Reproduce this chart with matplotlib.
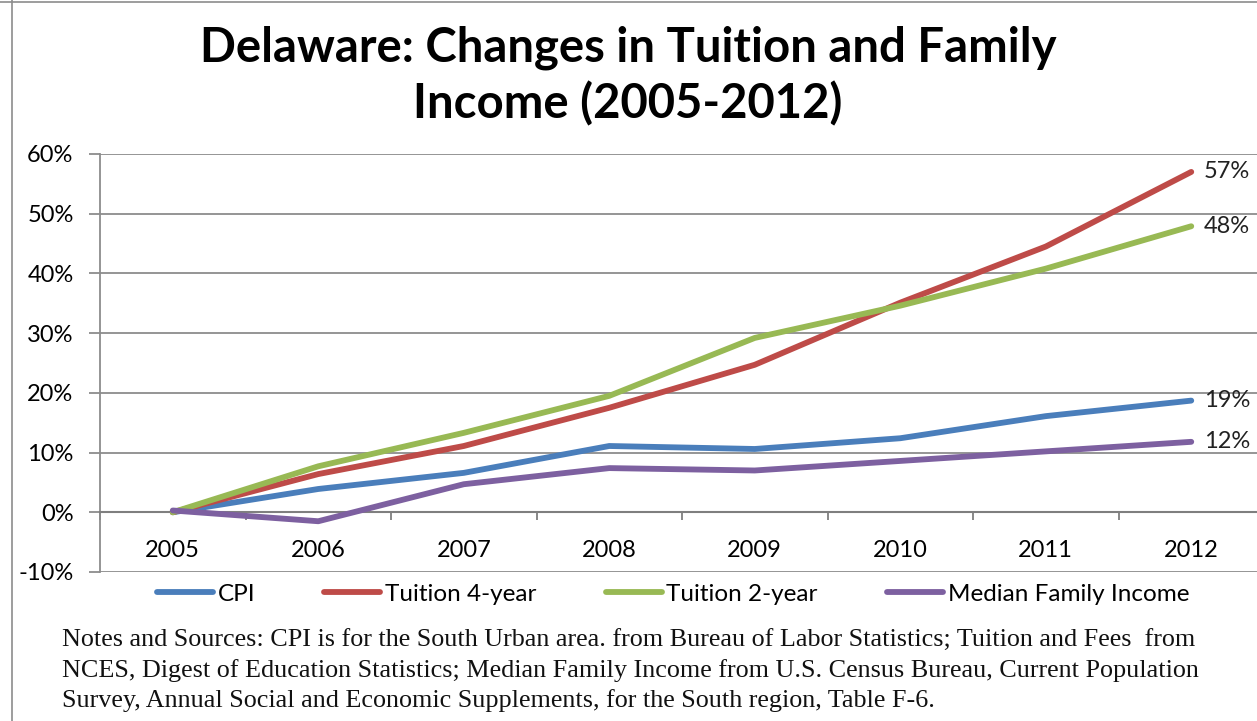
import numpy as np
import matplotlib
matplotlib.use("Agg")
import matplotlib.pyplot as plt
from matplotlib.lines import Line2D

# data
years = ["2005", "2006", "2007", "2008", "2009", "2010", "2011", "2012"]
cpi = [0.0, 3.9, 6.6, 11.1, 10.6, 12.4, 16.1, 18.7]
tuition_4yr = [0.0, 6.4, 11.1, 17.5, 24.7, 35.1, 44.5, 57.0]
tuition_2yr = [0.0, 7.7, 13.3, 19.5, 29.2, 34.6, 40.8, 47.9]
median_income = [0.3, -1.5, 4.7, 7.4, 7.0, 8.6, 10.2, 11.8]
end_labels = ["19%", "57%", "48%", "12%"]
series_names = ["CPI", "Tuition 4-year", "Tuition 2-year", "Median Family Income"]
y_ticks = [-10, 0, 10, 20, 30, 40, 50, 60]

colors = ["#4A7EBB", "#BE4B48", "#98B954", "#7D60A0"]
grid_col = "#8C8C8C"
W, H = 1257, 721

plt.rcParams['font.family'] = ['Lato', 'DejaVu Sans']

fig = plt.figure(figsize=(W / 100, H / 100), dpi=100)

# outer chart frame (top and left edges visible)
fig.add_artist(Line2D([12 / W, 12 / W], [0, 1], transform=fig.transFigure, color="#8C8C8C", lw=1.2))
fig.add_artist(Line2D([0, 1], [1 - 1.5 / H, 1 - 1.5 / H], transform=fig.transFigure, color="#8C8C8C", lw=1.2))

ax = fig.add_axes([100 / W, 1 - 572 / H, 1164 / W, (572 - 154) / H])
x = np.arange(len(years))
all_series = [cpi, tuition_4yr, tuition_2yr, median_income]
for vals, col, name in zip(all_series, colors, series_names):
    ax.plot(x, vals, color=col, lw=4.2, solid_capstyle="round", label=name, zorder=3)

for vals, col, lab in zip(all_series, colors, end_labels):
    ax.annotate(lab, (x[-1], vals[-1]), xytext=(9, 0), textcoords="offset points",
                va="center", ha="left", fontsize=17, color="#222222")

ax.set_xlim(-0.5, 7.5)
ax.set_ylim(-10, 60)
ax.set_yticks(y_ticks)
ax.set_yticklabels([f"{v}%" for v in y_ticks])
for v in y_ticks:
    if v != 0:
        ax.axhline(v, color=grid_col, lw=1.3, zorder=1)

for s in ["top", "right"]:
    ax.spines[s].set_visible(False)
ax.spines["left"].set_color(grid_col)
ax.spines["left"].set_linewidth(1.3)
ax.spines["bottom"].set_position(("data", 0))
ax.spines["bottom"].set_color("#7F7F7F")
ax.spines["bottom"].set_linewidth(1.5)

ax.set_xticks(x)
ax.set_xticklabels(years)
ax.set_xticks(np.arange(-0.5, 8, 1), minor=True)
ax.tick_params(axis="x", which="major", length=0, pad=20, labelsize=17)
ax.tick_params(axis="x", which="minor", length=6, direction="out", color="#7F7F7F", width=1.3)
ax.tick_params(axis="y", length=8, direction="out", color=grid_col, width=1.3, pad=11, labelsize=17)

fig.text(628 / W, 1 - 76 / H, "Delaware: Changes in Tuition and Family\nIncome (2005-2012)",
         ha="center", va="center", fontsize=34, fontweight="bold", linespacing=1.3)

fig.legend(loc="center", bbox_to_anchor=(673 / W, 1 - 594 / H), ncol=4, frameon=False,
           fontsize=17.5, handlelength=2.3, handletextpad=0.2, columnspacing=2.85)

notes = ("Notes and Sources: CPI is for the South Urban area. from Bureau of Labor Statistics; Tuition and Fees  from\n"
         "NCES, Digest of Education Statistics; Median Family Income from U.S. Census Bureau, Current Population\n"
         "Survey, Annual Social and Economic Supplements, for the South region, Table F-6.")
fig.text(62 / W, 1 - 671 / H, notes, ha="left", va="center", fontsize=18.8,
         family=["Liberation Serif", "DejaVu Serif"], linespacing=1.4, color="#111111")

fig.savefig("out.png", dpi=100)
